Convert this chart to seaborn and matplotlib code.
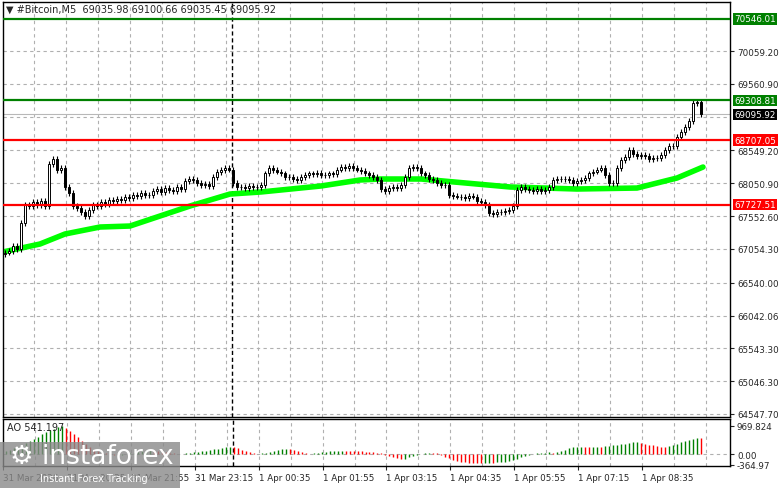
import numpy as np
import pandas as pd
import seaborn as sns
from matplotlib import pyplot as plt
from matplotlib.patches import Rectangle

# closes of M5 bars (open = previous close)
closes = [67000, 67020, 67100, 67050,
          67450, 67720, 67700,
          67760, 67720, 67780, 67700,
          68350, 68420, 68250, 68280,
          68000, 67900, 67700, 67680, 67620, 67560,
          67650, 67720, 67700,
          67760, 67740, 67800, 67780, 67820, 67800, 67850, 67830,
          67880, 67860, 67900, 67880, 67870,
          67940, 67960, 67920, 67980, 67950, 67930, 67990, 67970,
          68080, 68120, 68100,
          68050, 68020, 68040, 68010,
          68150, 68220, 68250, 68280, 68260, 68050,
          68000, 67990, 67980, 68010, 67990, 68000, 68020,
          68200, 68280, 68250, 68230, 68200,
          68150, 68140, 68120, 68100, 68150,
          68180, 68200, 68190, 68210, 68170, 68180, 68200, 68190,
          68260, 68300, 68290, 68310, 68280, 68260, 68240,
          68200, 68180, 68150, 68100,
          67960, 67940, 67980, 68000, 67980, 68020,
          68150, 68290, 68300, 68280,
          68200, 68180, 68120, 68100,
          68050, 68030, 68020,
          67880, 67860, 67850, 67840, 67830, 67860, 67850,
          67780, 67760, 67720, 67600, 67590, 67620,
          67610, 67630, 67650, 67700, 67950, 67990,
          67960, 67950, 67940, 67960, 67930, 67950, 67990,
          68100, 68120, 68110, 68120, 68100,
          68050, 68080, 68100, 68130, 68200,
          68230, 68260, 68280, 68180,
          68050, 68060,
          68280, 68400, 68450,
          68550, 68500, 68470,
          68480, 68460, 68420, 68440, 68430,
          68480, 68550, 68620, 68620,
          68750, 68830, 68900,
          69000, 69270, 69280, 69095.92]
first_open = 66980

ma_idx = [-0.5, 8.75, 15, 23.75, 31.25, 46.25, 56.25, 64, 79, 88.75, 94, 104,
          126.25, 143, 158, 168, 174.5]
ma_val = [67008, 67129, 67281, 67387, 67402, 67706, 67888, 67919, 68010, 68101,
          68116, 68116, 67995, 67964, 67979, 68131, 68298]

ao = [100, 150, 200, 250, 300, 380, 450, 530, 600, 680, 750, 820, 880, 930, 970,
      900, 800, 700, 580, 460, 350, 250, 150,
      100, 60, 30, 10, -20, -40, -30, -10, 20, 50, 80, 100, 120, 130, 120, 100, 80, 60, 40, 20, 10, 5,
      20, 40, 60, 80, 100, 120, 150, 170, 190, 210, 230, 250, 240,
      200, 150, 100, 60, 30, 10,
      20, 40, 70, 100, 130, 160, 180, 170, 140, 100, 70, 40, 10,
      30, 50, 70, 80, 90, 100, 110, 115, 110, 110, 105, 100, 90, 80, 70, 60, 50, 40,
      -20, -60, -100, -140, -170, -160, -120, -80, -40,
      10, 30, 40, 30, 20,
      -50, -100, -150, -200, -240, -270, -290, -300, -310, -320,
      -320, -310, -300, -300, -290, -280, -260, -230, -200, -160,
      -120, -80, -40, -10,
      20, 40, 50, 60, 50, 70, 100,
      150, 200, 230, 240, 250, 250, 240, 250, 260, 260, 270, 280, 300, 320, 330, 350,
      380, 400, 420, 380, 350,
      320, 300, 280, 260, 250,
      280, 320, 360, 400, 440, 480, 520, 560, 541]

price_ticks = [70059.20, 69560.90, 68549.20, 68050.90, 67552.60, 67054.30,
               66540.00, 66042.06, 65543.30, 65046.30, 64547.70]
levels = [70546.01, 69308.81, 68707.05, 67727.51]
level_colors = ['#008000', '#008000', '#ff0000', '#ff0000']
current = 69095.92

time_labels = ['31 Mar 2026', '31 Mar 20:35', '31 Mar 21:55', '31 Mar 23:15',
               '1 Apr 00:35', '1 Apr 01:55', '1 Apr 03:15', '1 Apr 04:35',
               '1 Apr 05:55', '1 Apr 07:15', '1 Apr 08:35']

sns.set_style('white')
plt.rcParams['font.family'] = ['DejaVu Sans']

W, H = 781, 489
fig = plt.figure(figsize=(W / 100, H / 100), dpi=100)


def px_axes(x0, y0, x1, y1):
    return fig.add_axes([x0 / W, 1 - y1 / H, (x1 - x0) / W, (y1 - y0) / H])


ax = px_axes(3, 3, 730, 418)
ax2 = px_axes(3, 420, 730, 467)

n = len(closes)
idx = np.arange(n)
opens = np.array([first_open] + closes[:-1])
cl = np.array(closes)
hi = np.maximum(opens, cl) + 45
lo = np.minimum(opens, cl) - 45

xmin, xmax = -0.5, 181.25
grid_x = np.arange(-0.75, xmax, 8)
for a in (ax, ax2):
    a.set_xlim(xmin, xmax)
    for g in grid_x:
        a.axvline(g, color='#b0b0b0', lw=0.8, ls=(0, (3, 3)), zorder=0)
    a.axvline(56.75, color='black', lw=1, ls=(0, (3, 2)), zorder=1)
    for s in a.spines.values():
        s.set_color('black')
        s.set_linewidth(1)

ax.set_ylim(64502, 70804)
for t in price_ticks + [69062.6]:
    ax.axhline(t, color='#b0b0b0', lw=0.8, ls=(0, (3, 3)), zorder=0)

# candles
ax.vlines(idx, lo, hi, color='black', lw=0.8, zorder=3)
up = cl >= opens
ax.bar(idx[up], (cl - opens)[up], bottom=opens[up], width=0.65,
       color='white', edgecolor='black', lw=0.7, zorder=4)
ax.bar(idx[~up], (opens - cl)[~up], bottom=cl[~up], width=0.65,
       color='black', edgecolor='black', lw=0.7, zorder=4)

ma_df = pd.DataFrame({'i': ma_idx, 'v': ma_val})
sns.lineplot(data=ma_df, x='i', y='v', ax=ax, color='#00ff00', lw=4, zorder=2)

for lv, c in zip(levels, level_colors):
    ax.axhline(lv, color=c, lw=1.6, zorder=5)
ax.axhline(current, color='#b8b8b8', lw=0.8, zorder=1)

ax.yaxis.tick_right()
ax.set_yticks(price_ticks)
ax.set_yticklabels([f'{t:.2f}' for t in price_ticks])
ax.tick_params(axis='y', labelsize=6.3, length=3, pad=2, direction='out', right=True)
ax.set_xticks([])
ax.set_xlabel('')
ax.set_ylabel('')

for lv, c in zip(levels, level_colors):
    ax.text(1.006, lv, f'{lv:.2f}', transform=ax.get_yaxis_transform(),
            fontsize=6.3, color='white', va='center', ha='left',
            bbox=dict(boxstyle='square,pad=0.15', fc=c, ec='none'))
ax.text(1.006, current, f'{current:.2f}', transform=ax.get_yaxis_transform(),
        fontsize=6.3, color='white', va='center', ha='left',
        bbox=dict(boxstyle='square,pad=0.15', fc='black', ec='none'))

ax.text(0.004, 0.995, '▼ #Bitcoin,M5  69035.98 69100.66 69035.45 69095.92',
        transform=ax.transAxes, fontsize=7, va='top', ha='left')

# AO histogram
ao = np.array(ao)
ao_col = ['#008000'] + ['#008000' if ao[k] > ao[k - 1] else '#ff0000' for k in range(1, n)]
ax2.vlines(idx, 0, ao, colors=ao_col, lw=1)
ax2.set_ylim(-415, 1212)
ax2.axhline(0, color='#b0b0b0', lw=0.8, ls=(0, (3, 3)), zorder=0)
ax2.yaxis.tick_right()
ax2.set_yticks([969.824, 0, -364.97])
ax2.set_yticklabels(['969.824', '0.00', '-364.97'])
ax2.tick_params(axis='y', labelsize=6.3, length=3, pad=2, right=True)
ax2.text(0.006, 0.93, 'AO 541.197', transform=ax2.transAxes, fontsize=7,
         va='top', ha='left')

tick_pos = np.arange(len(time_labels)) * 16 - 0.75
ax2.set_xticks(tick_pos)
ax2.set_xticklabels(time_labels, ha='left')
ax2.tick_params(axis='x', labelsize=6.3, length=3, pad=2, bottom=True)

# watermark
fig.patches.append(Rectangle((0, 0), 180 / W, 46 / H, transform=fig.transFigure,
                             fc='#8a8a8a', alpha=0.8, ec='none', zorder=10))
fig.text(10 / W, 1 - 470 / H, '⚙ instaforex', fontsize=19, color='white',
         va='bottom', ha='left', zorder=11)
fig.text(40 / W, 1 - 484 / H, 'Instant Forex Tracking', fontsize=7, color='white',
         va='bottom', ha='left', zorder=11)

fig.savefig('out.png', dpi=100, facecolor='white')
